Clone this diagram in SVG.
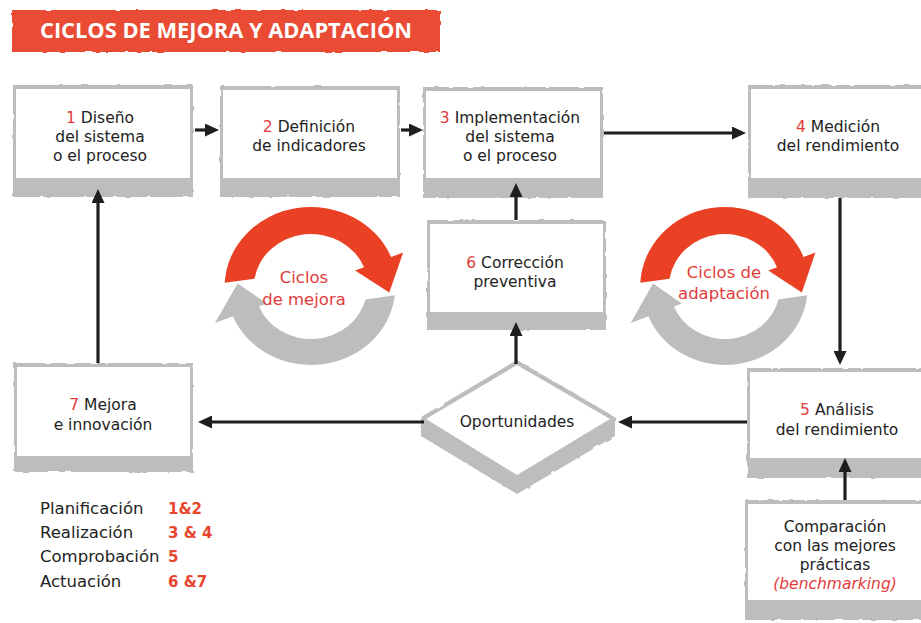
<svg xmlns="http://www.w3.org/2000/svg" width="921" height="623" viewBox="0 0 921 623">
<style>
  .shade{fill:#bdbdbd;}
  .face{fill:#ffffff;}
  .t{font-family:"DejaVu Sans","Noto Sans",sans-serif;font-size:15.5px;fill:#222;text-anchor:middle;}
  .n{fill:#e23b3b;}
  .cyc{font-family:"DejaVu Sans","Noto Sans",sans-serif;font-size:16.5px;fill:#e23b3b;text-anchor:middle;}
  .leg{font-family:"DejaVu Sans","Noto Sans",sans-serif;font-size:16.5px;fill:#222;}
  .legn{font-family:"DejaVu Sans","Noto Sans",sans-serif;font-size:15px;font-weight:bold;fill:#e8452f;}
  .conn{stroke:#1e1e1e;stroke-width:3.2;fill:none;marker-end:url(#ah);}
  .redarc{fill:#ea4125;}
  .grayarc{fill:#bdbdbd;}
</style>
<defs>
  <marker id="ah" markerUnits="userSpaceOnUse" markerWidth="14" markerHeight="13" viewBox="0 0 14 13" refX="10" refY="6.5" orient="auto">
    <path d="M0,0 L14,6.5 L0,13 Z" fill="#1e1e1e"/>
  </marker>
  <filter id="rough" x="-5%" y="-5%" width="110%" height="110%">
    <feTurbulence type="fractalNoise" baseFrequency="0.09" numOctaves="2" seed="4"/>
    <feDisplacementMap in="SourceGraphic" scale="3"/>
  </filter>
  <path id="redA" d="M -79.89,-4.19 A 80 80 0 0 1 74.17,-29.97 L 85.30,-34.46 L 72.5,5.5 L 40.8,-16.5 L 49.14,-19.85 A 53 53 0 0 0 -52.35,-8.29 Z"/>
  <path id="grayA" d="M 77.57,8.15 A 78 78 0 0 1 -72.32,29.22 L -89.01,35.96 L -67.91,-3.56 L -40.8,16.5 L -48.21,19.48 A 52 52 0 0 0 50.46,12.58 Z"/>
</defs>
<rect width="921" height="623" fill="#ffffff"/>

<g id="title">
  <rect x="12" y="10" width="428" height="42" fill="#e94b35" filter="url(#rough)"/>
  <text x="40" y="38" textLength="372" lengthAdjust="spacingAndGlyphs" style="font-family:'Open Sans','Noto Sans',sans-serif;font-size:21px;font-weight:bold;fill:#fff;">CICLOS DE MEJORA Y ADAPTACIÓN</text>
</g>

<g id="cycle-mejora">
  <g transform="translate(311,287) scale(1.08,1)">
    <use href="#grayA" class="grayarc"/>
    <use href="#redA" class="redarc"/>
  </g>
  <text class="cyc" x="304" y="283">Ciclos</text>
  <text class="cyc" x="304" y="305">de mejora</text>
</g>

<g id="cycle-adaptacion">
  <g transform="translate(725,287) scale(1.06,1)">
    <use href="#grayA" class="grayarc"/>
    <use href="#redA" class="redarc"/>
  </g>
  <text class="cyc" x="724" y="278">Ciclos de</text>
  <text class="cyc" x="724" y="299">adaptación</text>
</g>

<g id="box1">
  <rect class="shade" x="13" y="85" width="180" height="112" filter="url(#rough)"/>
  <rect class="face" x="16" y="89" width="174" height="89"/>
  <text class="t" x="100" y="123"><tspan class="n">1</tspan> Diseño</text>
  <text class="t" x="100" y="142">del sistema</text>
  <text class="t" x="100" y="161">o el proceso</text>
</g>

<g id="box2">
  <rect class="shade" x="220" y="86" width="180" height="111" filter="url(#rough)"/>
  <rect class="face" x="223" y="90" width="174" height="88"/>
  <text class="t" x="309" y="132"><tspan class="n">2</tspan> Definición</text>
  <text class="t" x="309" y="151">de indicadores</text>
</g>

<g id="box3">
  <rect class="shade" x="423" y="87" width="180" height="111" filter="url(#rough)"/>
  <rect class="face" x="426" y="91" width="174" height="87"/>
  <text class="t" x="510" y="123"><tspan class="n">3</tspan> Implementación</text>
  <text class="t" x="510" y="142">del sistema</text>
  <text class="t" x="510" y="161">o el proceso</text>
</g>

<g id="box4">
  <rect class="shade" x="748" y="85" width="180" height="113" filter="url(#rough)"/>
  <rect class="face" x="751" y="89" width="177" height="89"/>
  <text class="t" x="838" y="132"><tspan class="n">4</tspan> Medición</text>
  <text class="t" x="838" y="151">del rendimiento</text>
</g>

<g id="box6">
  <rect class="shade" x="427" y="220" width="179" height="110" filter="url(#rough)"/>
  <rect class="face" x="430" y="224" width="173" height="88"/>
  <text class="t" x="515" y="268"><tspan class="n">6</tspan> Corrección</text>
  <text class="t" x="515" y="287">preventiva</text>
</g>

<g id="box7">
  <rect class="shade" x="14" y="363" width="179" height="109" filter="url(#rough)"/>
  <rect class="face" x="17" y="367" width="173" height="89"/>
  <text class="t" x="103" y="410"><tspan class="n">7</tspan> Mejora</text>
  <text class="t" x="103" y="430">e innovación</text>
</g>

<g id="box5">
  <rect class="shade" x="747" y="368" width="180" height="110" filter="url(#rough)"/>
  <rect class="face" x="750" y="372" width="177" height="86"/>
  <text class="t" x="837" y="415"><tspan class="n">5</tspan> Análisis</text>
  <text class="t" x="837" y="435">del rendimiento</text>
</g>

<g id="benchmarking">
  <rect class="shade" x="745" y="500" width="182" height="120" filter="url(#rough)"/>
  <rect class="face" x="748" y="504" width="179" height="96"/>
  <text class="t" x="835" y="532">Comparación</text>
  <text class="t" x="835" y="551">con las mejores</text>
  <text class="t" x="835" y="570">prácticas</text>
  <text class="t n" x="835" y="589" style="font-style:italic;">(benchmarking)</text>
</g>

<g id="oportunidades">
  <polygon class="shade" points="517,360 615,417 615,436 517,494 421,436 421,417" filter="url(#rough)"/>
  <polygon class="face" points="517,365 610,419 517,475 426,419"/>
  <text class="t" x="517" y="427">Oportunidades</text>
</g>

<g id="connectors">
  <path class="conn" d="M195,130 H215"/>
  <path class="conn" d="M401,130 H419"/>
  <path class="conn" d="M604,133 H742"/>
  <path class="conn" d="M840,198 V361"/>
  <path class="conn" d="M747,422 H622"/>
  <path class="conn" d="M424,422 H202"/>
  <path class="conn" d="M98,363 V193"/>
  <path class="conn" d="M516,364 V326"/>
  <path class="conn" d="M516,220 V187"/>
  <path class="conn" d="M845,500 V462"/>
</g>

<g id="legend">
  <text class="leg" x="40" y="514">Planificación</text>
  <text class="leg" x="40" y="538">Realización</text>
  <text class="leg" x="40" y="562">Comprobación</text>
  <text class="leg" x="40" y="587">Actuación</text>
  <text class="legn" x="168" y="514">1&amp;2</text>
  <text class="legn" x="168" y="538">3 &amp; 4</text>
  <text class="legn" x="168" y="562">5</text>
  <text class="legn" x="168" y="587">6 &amp;7</text>
</g>
</svg>
